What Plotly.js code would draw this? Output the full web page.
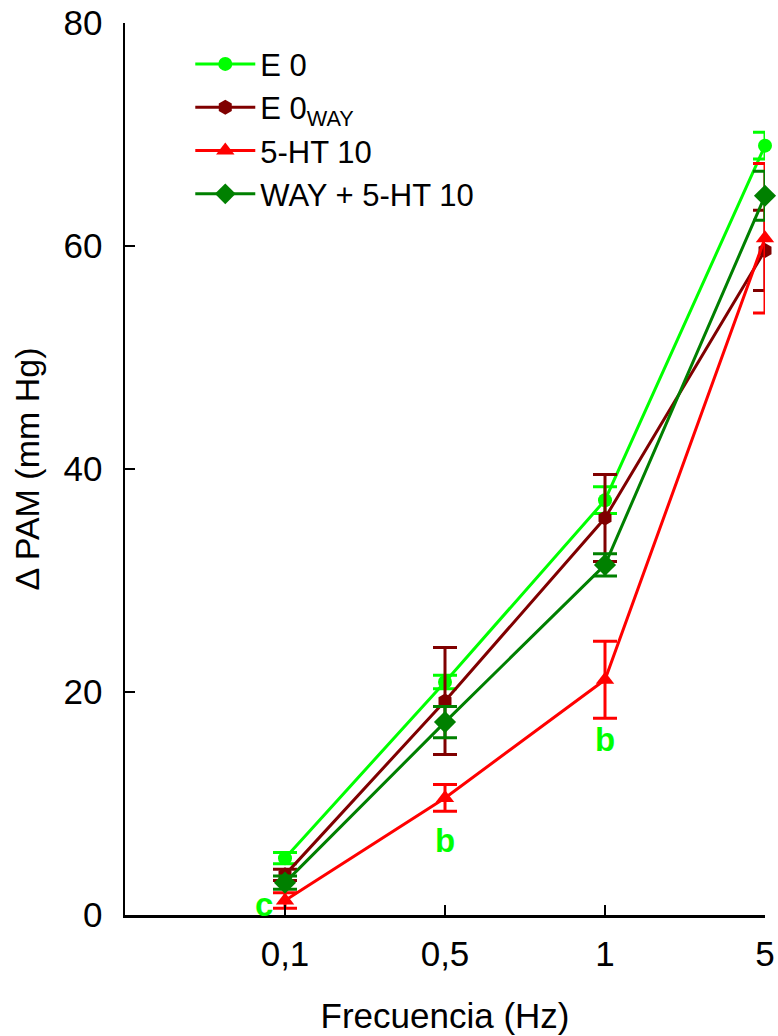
<!DOCTYPE html>
<html>
<head>
<meta charset="utf-8">
<script src="https://cdn.plot.ly/plotly-3.0.1.min.js"></script>
<style>body{margin:0;padding:0;background:#fff;} #chart{width:778px;height:1036px;}</style>
</head>
<body>
<div id="chart"></div>
<script>
var categories = ["0,1", "0,5", "1", "5"];
var seriesNames = ["E 0", "E 0<sub>WAY</sub>", "5-HT 10", "WAY + 5-HT 10"];
var e0 = [5.1, 20.9, 37.2, 69.0];
var e0Err = [0.5, 0.6, 1.2, 1.2];
var e0way = [3.6, 19.2, 35.6, 59.6];
var e0wayErr = [0.5, 4.8, 3.9, 3.6];
var ht10 = [1.3, 10.5, 21.1, 60.7];
var ht10Err = [0.7, 1.2, 3.45, 6.7];
var wayHt10 = [2.9, 17.3, 31.4, 64.5];
var wayHt10Err = [0.6, 1.4, 1.0, 2.2];
// significance letters: category index, y value, label
var sigIndex = [0, 1, 2];
var sigY = [0.9, 6.7, 15.7];
var sigText = ["c", "b", "b"];
var sigShift = [-21, 0, 0];

var colors = ["#00ff00", "#800000", "#ff0000", "#008000"];
var symbols = ["circle", "hexagon", "triangle-up", "diamond"];
var sizes = [14, 15, 16, 17];
var data = [e0, e0way, ht10, wayHt10];
var errs = [e0Err, e0wayErr, ht10Err, wayHt10Err];

var traces = data.map(function(d, i) {
  return {
    x: categories, y: d, name: seriesNames[i], type: "scatter", mode: "lines+markers",
    line: {color: colors[i], width: 3},
    marker: {color: colors[i], symbol: symbols[i], size: sizes[i]},
    error_y: {type: "data", array: errs[i], visible: true, color: colors[i], thickness: 3, width: 12},
    cliponaxis: false
  };
});

var annotations = sigIndex.map(function(xi, k) {
  return {x: xi, y: sigY[k], text: "<b>" + sigText[k] + "</b>", showarrow: false, xshift: sigShift[k],
    font: {family: "Liberation Sans, Arial, sans-serif", size: 33, color: "#00ff00"}};
});

var layout = {
  width: 778, height: 1036,
  margin: {l: 125, r: 13, t: 23, b: 121},
  paper_bgcolor: "#fff", plot_bgcolor: "#fff",
  font: {family: "Liberation Sans, Arial, sans-serif", color: "#000"},
  showlegend: true,
  legend: {x: 0.102, y: 0.984, xanchor: "left", yanchor: "top", font: {size: 31}, bgcolor: "rgba(0,0,0,0)", tracegroupgap: 0, itemwidth: 60},
  xaxis: {
    type: "category", range: [-1, 3], showgrid: false, zeroline: false,
    showline: true, linecolor: "#000", linewidth: 2.5,
    ticks: "inside", ticklen: 10, tickwidth: 2.5, tickcolor: "#000",
    ticklabelstandoff: 6,
    tickfont: {size: 35}, title: {text: "Frecuencia (Hz)", font: {size: 35}, standoff: 32}
  },
  yaxis: {
    range: [0, 80], tickvals: [0, 20, 40, 60, 80], showgrid: false, zeroline: false,
    showline: true, linecolor: "#000", linewidth: 2.5,
    ticks: "inside", ticklen: 10, tickwidth: 2.5, tickcolor: "#000",
    ticklabelstandoff: 13,
    tickfont: {size: 35}, title: {text: "Δ PAM (mm Hg)", font: {size: 34}, standoff: 14}
  },
  annotations: annotations
};

Plotly.newPlot("chart", traces, layout, {displayModeBar: false, staticPlot: true});
</script>
</body>
</html>
